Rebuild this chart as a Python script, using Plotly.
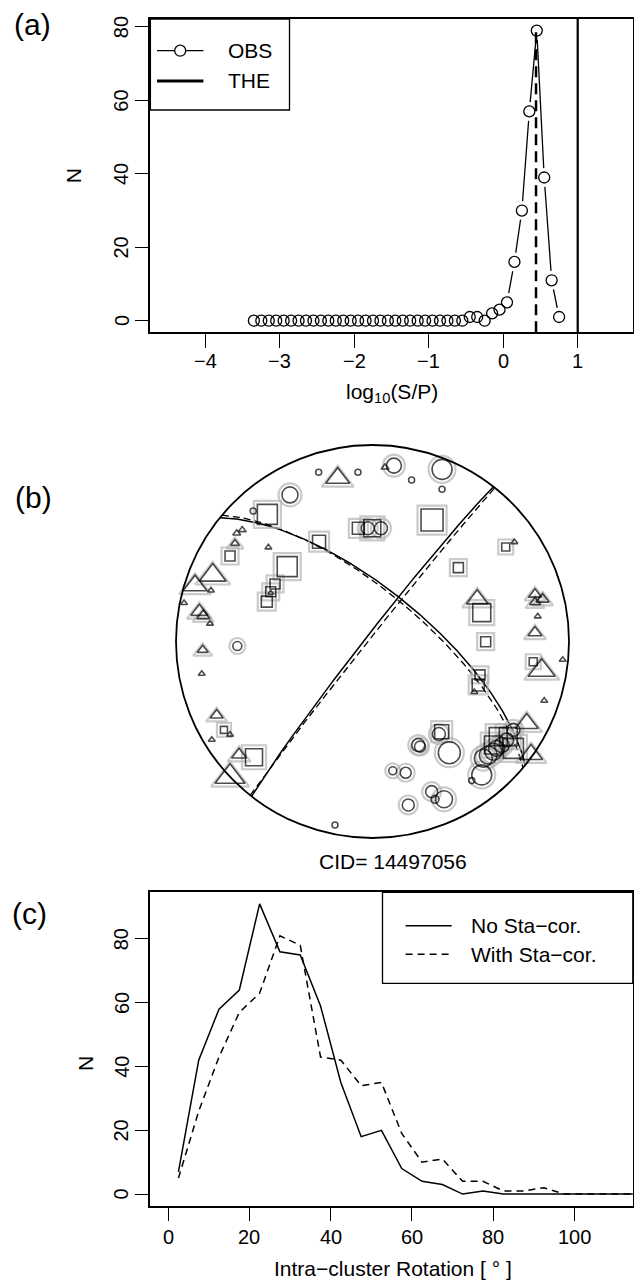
import numpy as np
import plotly.graph_objects as go

W, H = 634, 1281
FONT = "Liberation Sans, Arial, Helvetica, sans-serif"

# ---------------- (a) distribution of log10(S/P) ----------------
log_sp_bins = [-3.35, -3.25, -3.15, -3.05, -2.95, -2.85, -2.75, -2.65, -2.55, -2.45,
               -2.35, -2.25, -2.15, -2.05, -1.95, -1.85, -1.75, -1.65, -1.55, -1.45,
               -1.35, -1.25, -1.15, -1.05, -0.95, -0.85, -0.75, -0.65, -0.55, -0.45,
               -0.35, -0.25, -0.15, -0.05, 0.05, 0.15, 0.25, 0.35, 0.45, 0.55, 0.65, 0.75]
n_obs = [0, 0, 0, 0, 0, 0, 0, 0, 0, 0,
         0, 0, 0, 0, 0, 0, 0, 0, 0, 0,
         0, 0, 0, 0, 0, 0, 0, 0, 0, 1,
         1, 0, 2, 3, 5, 16, 30, 57, 79, 39, 11, 1]
log_sp_theory = 0.44
log_sp_limit = 1.0
xlim_a = [-4.5, 1.5]
xticks_a = [-4, -3, -2, -1, 0, 1]
yticks_a = [0, 20, 40, 60, 80]

# ---------------- (c) intra-cluster rotation ----------------
rot_bins = [2.5, 7.5, 12.5, 17.5, 22.5, 27.5, 32.5, 37.5, 42.5, 47.5, 52.5, 57.5,
            62.5, 67.5, 72.5, 77.5, 82.5, 87.5, 92.5, 97.5, 102.5, 107.5, 112.5, 117.5]
n_no_cor = [7, 42, 58, 64, 91, 76, 75, 59, 35, 18, 20, 8,
            4, 3, 0, 1, 0, 0, 0, 0, 0, 0, 0, 0]
n_with_cor = [5, 26, 43, 57, 63, 81, 78, 43, 42, 34, 35, 19,
              10, 11, 4, 4, 1, 1, 2, 0, 0, 0, 0, 0]
xlim_c = [0, 110]
xticks_c = [0, 20, 40, 60, 80, 100]
yticks_c = [0, 20, 40, 60, 80]

# ---------------- (b) focal mechanism (equal-area, lower hemisphere) ----------------
cid_label = "CID= 14497056"
planes_solid = [(309.0, 68.8), (218.0, 87.0)]      # strike, dip
planes_dashed = [(310.0, 70.0), (218.5, 88.5)]

# projected positions (east, north), symbol width in px, halo flag
circ_e = [-0.274, -0.074, 0.109, 0.199, 0.354, 0.354, -0.420, -0.607, -0.024, 0.043,
          0.564, 0.589, 0.615, 0.632, 0.658, 0.683, 0.717, 0.556, 0.505, 0.338,
          0.233, 0.242, 0.391, 0.103, 0.169, 0.301, 0.318, 0.364, 0.182, -0.191, -0.688]
circ_n = [0.861, 0.861, 0.895, 0.822, 0.876, 0.775, 0.746, 0.664, 0.576, 0.576,
          -0.594, -0.578, -0.561, -0.544, -0.527, -0.501, -0.450, -0.679, -0.708, -0.471,
          -0.527, -0.535, -0.566, -0.658, -0.668, -0.764, -0.803, -0.803, -0.832, -0.934, -0.023]
circ_amp = [6, 6, 15, 6, 20, 6, 16, 6, 13, 13,
            18, 18, 17, 16, 15, 14, 13, 20, 6, 13,
            13, 11, 22, 8, 11, 12, 8, 17, 12, 6, 9]
circ_halo = [0, 0, 1, 0, 1, 0, 1, 0, 1, 1,
             1, 1, 1, 1, 1, 1, 1, 1, 0, 1,
             1, 1, 1, 1, 1, 1, 0, 1, 1, 0, 1]

tri_e = [-0.177, 0.064, 0.722, 0.533, 0.827, 0.866, 0.827, 0.841, 0.827, 0.861,
         0.968, 0.874, 0.518, 0.785, 0.807, -0.691, -0.663, -0.700, -0.530, -0.813,
         -0.903, -0.822, -0.959, -0.518, -0.881, -0.861, -0.827, -0.864, -0.869, -0.793,
         -0.725, -0.818, -0.679, -0.725]
tri_n = [0.856, 0.895, 0.513, 0.237, 0.253, 0.228, 0.211, 0.135, 0.059, -0.120,
         -0.086, -0.294, -0.250, -0.394, -0.552, 0.559, 0.576, 0.508, 0.486, 0.364,
         0.309, 0.267, 0.203, 0.253, 0.169, 0.144, 0.098, -0.032, -0.157, -0.362,
         -0.467, -0.493, -0.561, -0.658]
tri_amp = [24, 8, 7, 22, 13, 13, 11, 7, 14, 27,
           7, 7, 7, 23, 23, 8, 8, 9, 7, 27,
           24, 7, 7, 6, 17, 13, 7, 11, 7, 13,
           7, 7, 15, 30]
tri_halo = [1, 0, 0, 1, 1, 1, 1, 0, 1, 1,
            0, 0, 0, 1, 1, 0, 0, 1, 0, 1,
            1, 0, 0, 0, 1, 1, 0, 1, 0, 1,
            0, 0, 1, 1]

sq_e = [-0.535, -0.272, -0.072, -0.001, 0.303, 0.678, 0.437, 0.556, 0.576, 0.818,
        0.547, 0.538, 0.640, 0.691, 0.717, 0.615, 0.352, -0.725, -0.434, -0.496,
        -0.518, -0.538, -0.756, -0.603]
sq_n = [0.647, 0.508, 0.576, 0.576, 0.618, 0.481, 0.376, 0.147, -0.001, -0.103,
        -0.170, -0.221, -0.484, -0.484, -0.544, -0.527, -0.459, 0.435, 0.381, 0.293,
        0.253, 0.203, -0.450, -0.589]
sq_amp = [20, 13, 12, 17, 22, 8, 10, 18, 10, 8,
          10, 12, 18, 18, 20, 18, 14, 10, 20, 10,
          10, 11, 7, 17]
sq_halo = [1] * 24


def px_x(x):
    return x / W


def px_y(y):
    return 1 - y / H


def r_range(lim):
    d = (lim[1] - lim[0]) * 0.04
    return [lim[0] - d, lim[1] + d]


xr_a = r_range(xlim_a)
yr_a = r_range([0, max(n_obs)])
xr_c = r_range(xlim_c)
yr_c = r_range([0, max(max(n_no_cor), max(n_with_cor))])

# plot regions (pixels)
BOX_L, BOX_R = 150.4, 632.8
A_TOP, A_BOT = 19.0, 332.3
C_TOP, C_BOT = 892.3, 1205.7
NET_CX, NET_CY, NET_R, NET_HALF = 372.5, 641.5, 196.5, 200.0
YLAB_X = 121.3

fig = go.Figure()

# ---- panel (a) ----
fig.add_trace(go.Scatter(x=log_sp_bins, y=n_obs, mode="lines",
                         line=dict(color="black", width=1.3),
                         xaxis="x", yaxis="y", hoverinfo="skip", showlegend=False))
# white discs open a gap in the line around every point (type "b")
fig.add_trace(go.Scatter(x=log_sp_bins, y=n_obs, mode="markers",
                         marker=dict(symbol="circle", size=19, color="white",
                                     line=dict(width=0)),
                         xaxis="x", yaxis="y", hoverinfo="skip", showlegend=False))
fig.add_trace(go.Scatter(x=log_sp_bins, y=n_obs, mode="markers",
                         marker=dict(symbol="circle-open", size=11, color="black",
                                     line=dict(width=1.3)),
                         xaxis="x", yaxis="y", hoverinfo="skip", showlegend=False))

# ---- panel (c) ----
fig.add_trace(go.Scatter(x=rot_bins, y=n_no_cor, mode="lines",
                         line=dict(color="black", width=1.5),
                         xaxis="x2", yaxis="y2", hoverinfo="skip", showlegend=False))
fig.add_trace(go.Scatter(x=rot_bins, y=n_with_cor, mode="lines",
                         line=dict(color="black", width=1.5, dash="7px,5px"),
                         xaxis="x2", yaxis="y2", hoverinfo="skip", showlegend=False))


# ---- panel (b) ----
def great_circle(strike, dip, n=241):
    dipdir = np.radians(strike + 90.0)
    t = np.radians(np.linspace(-90.0, 90.0, n))
    plunge = np.arctan(np.tan(np.radians(dip)) * np.cos(t))
    r = np.sqrt(2.0) * np.sin((np.pi / 2 - plunge) / 2)
    trend = dipdir + t
    return r * np.sin(trend), r * np.cos(trend)


for strike, dip in planes_dashed:
    ge, gn = great_circle(strike, dip)
    fig.add_trace(go.Scatter(x=ge, y=gn, mode="lines",
                             line=dict(color="black", width=1.3, dash="7px,4px"),
                             xaxis="x3", yaxis="y3", hoverinfo="skip", showlegend=False))
for strike, dip in planes_solid:
    ge, gn = great_circle(strike, dip)
    fig.add_trace(go.Scatter(x=ge, y=gn, mode="lines",
                             line=dict(color="black", width=1.5),
                             xaxis="x3", yaxis="y3", hoverinfo="skip", showlegend=False))


def sym_sizes(kind, amp):
    a = np.asarray(amp, dtype=float)
    if kind == "triangle-up":
        return a / 1.155
    return a


def anchor_shift(kind, sizes):
    # plotly's triangle glyph sits above its anchor point; recentre it
    if kind == "triangle-up":
        return -0.457 * (sizes / 2.0) / NET_R
    return np.zeros_like(sizes)


groups = [("circle", circ_e, circ_n, circ_amp, circ_halo),
          ("triangle-up", tri_e, tri_n, tri_amp, tri_halo),
          ("square", sq_e, sq_n, sq_amp, sq_halo)]

HALO_GROW = 7
# grey halos first
for kind, e, n, amp, halo in groups:
    s = sym_sizes(kind, amp)
    dy = anchor_shift(kind, s + HALO_GROW)
    idx = [i for i, h in enumerate(halo) if h]
    fig.add_trace(go.Scatter(
        x=[e[i] for i in idx], y=[n[i] + dy[i] for i in idx], mode="markers",
        marker=dict(symbol=kind + "-open", size=[s[i] + HALO_GROW for i in idx],
                    color="#b3b3b3", line=dict(width=2.2)),
        xaxis="x3", yaxis="y3", hoverinfo="skip", showlegend=False))
for kind, e, n, amp, halo in groups:
    s = sym_sizes(kind, amp)
    dy = anchor_shift(kind, s)
    fig.add_trace(go.Scatter(
        x=e, y=[n[i] + dy[i] for i in range(len(n))], mode="markers",
        marker=dict(symbol=kind + "-open", size=s, color="black",
                    line=dict(width=1.6)),
        xaxis="x3", yaxis="y3", hoverinfo="skip", showlegend=False))

shapes = []
# primitive circle of the net
shapes.append(dict(type="circle", xref="x3", yref="y3", x0=-1, x1=1, y0=-1, y1=1,
                   line=dict(color="black", width=1.8), layer="above"))
# (a) theoretical and limiting ratios
shapes.append(dict(type="line", xref="x", yref="y", x0=log_sp_theory, x1=log_sp_theory,
                   y0=yr_a[0], y1=max(n_obs),
                   line=dict(color="black", width=2.5, dash="11px,6px")))
shapes.append(dict(type="line", xref="x", yref="y domain", x0=log_sp_limit, x1=log_sp_limit,
                   y0=0, y1=1, line=dict(color="black", width=2.2)))

# legend of (a)
LA_R, LA_B = 289.5, 110.0
shapes.append(dict(type="rect", xref="paper", yref="paper",
                   x0=px_x(BOX_L), x1=px_x(LA_R), y0=px_y(LA_B), y1=px_y(A_TOP),
                   line=dict(color="black", width=1.3), fillcolor="white"))
shapes.append(dict(type="line", xref="paper", yref="paper",
                   x0=px_x(157), x1=px_x(203.4), y0=px_y(50.7), y1=px_y(50.7),
                   line=dict(color="black", width=1.3)))
shapes.append(dict(type="circle", xref="paper", yref="paper",
                   xsizemode="pixel", ysizemode="pixel",
                   xanchor=px_x(180.2), yanchor=px_y(50.7),
                   x0=-5.5, x1=5.5, y0=-5.5, y1=5.5,
                   line=dict(color="black", width=1.3), fillcolor="white"))
shapes.append(dict(type="line", xref="paper", yref="paper",
                   x0=px_x(157), x1=px_x(203.4), y0=px_y(81), y1=px_y(81),
                   line=dict(color="black", width=3)))

# legend of (c)
LC_L, LC_B = 382.5, 983.3
shapes.append(dict(type="rect", xref="paper", yref="paper",
                   x0=px_x(LC_L), x1=px_x(BOX_R), y0=px_y(LC_B), y1=px_y(C_TOP),
                   line=dict(color="black", width=1.3), fillcolor="white"))
shapes.append(dict(type="line", xref="paper", yref="paper",
                   x0=px_x(405.6), x1=px_x(451.7), y0=px_y(925.7), y1=px_y(925.7),
                   line=dict(color="black", width=1.5)))
shapes.append(dict(type="line", xref="paper", yref="paper",
                   x0=px_x(405.6), x1=px_x(451.7), y0=px_y(954.3), y1=px_y(954.3),
                   line=dict(color="black", width=1.5, dash="7px,5px")))


def note(text, x, y, size=21, angle=0, xanchor="center"):
    return dict(text=text, xref="paper", yref="paper", x=px_x(x), y=px_y(y),
                xanchor=xanchor, yanchor="middle", showarrow=False, textangle=angle,
                font=dict(family=FONT, size=size, color="black"))


def tick_text(v):
    s = "%g" % v
    return s.replace("-", "\u2212")


annotations = [
    note("(a)", 32.5, 24, size=30),
    note("(b)", 33, 497, size=30),
    note("(c)", 29.3, 913, size=30),
    note("N", 73.5, 175.7, angle=-90),
    note("log<sub>10</sub>(S/P)", 391.6, 393.3),
    note("OBS", 225.6, 50.7, xanchor="left"),
    note("THE", 225.6, 81, xanchor="left"),
    note(cid_label, 393, 861),
    note("N", 85, 1064, angle=-90),
    note("Intra\u2212cluster Rotation [ \u00b0 ]", 392.8, 1268.3),
    note("No Sta\u2212cor.", 469, 925.7, xanchor="left"),
    note("With Sta\u2212cor.", 469, 954.3, xanchor="left"),
]

# tick labels, R style: y labels parallel to the axis
for xref, yref, xt, ypix in (("x", "y", xticks_a, 360.7), ("x2", "y2", xticks_c, 1236.7)):
    for v in xt:
        annotations.append(dict(text=tick_text(v), xref=xref, yref="paper", x=v,
                                y=px_y(ypix), xanchor="center", yanchor="middle",
                                showarrow=False,
                                font=dict(family=FONT, size=20, color="black")))
for yref, yt in (("y", yticks_a), ("y2", yticks_c)):
    for v in yt:
        annotations.append(dict(text=tick_text(v), xref="paper", yref=yref,
                                x=px_x(YLAB_X), y=v, xanchor="center", yanchor="middle",
                                showarrow=False, textangle=-90,
                                font=dict(family=FONT, size=20, color="black")))

axis_style = dict(showline=True, linecolor="black", linewidth=1.5, mirror=True,
                  ticks="outside", ticklen=14, tickwidth=1.3, tickcolor="black",
                  showgrid=False, zeroline=False, automargin=False,
                  showticklabels=False)

fig.update_layout(
    width=W, height=H, margin=dict(l=0, r=0, t=0, b=0),
    paper_bgcolor="white", plot_bgcolor="white",
    font=dict(family=FONT, size=20, color="black"),
    showlegend=False,
    xaxis=dict(domain=[px_x(BOX_L), px_x(BOX_R)], range=xr_a, anchor="y",
               tickvals=xticks_a, **axis_style),
    yaxis=dict(domain=[px_y(A_BOT), px_y(A_TOP)], range=yr_a, anchor="x",
               tickvals=yticks_a, **axis_style),
    xaxis2=dict(domain=[px_x(BOX_L), px_x(BOX_R)], range=xr_c, anchor="y2",
                tickvals=xticks_c, **axis_style),
    yaxis2=dict(domain=[px_y(C_BOT), px_y(C_TOP)], range=yr_c, anchor="x2",
                tickvals=yticks_c, **axis_style),
    xaxis3=dict(domain=[px_x(NET_CX - NET_HALF), px_x(NET_CX + NET_HALF)],
                range=[-NET_HALF / NET_R, NET_HALF / NET_R], visible=False, anchor="y3"),
    yaxis3=dict(domain=[px_y(NET_CY + NET_HALF), px_y(NET_CY - NET_HALF)],
                range=[-NET_HALF / NET_R, NET_HALF / NET_R], visible=False, anchor="x3"),
    shapes=shapes,
    annotations=annotations,
)

fig.write_html("out.html")
